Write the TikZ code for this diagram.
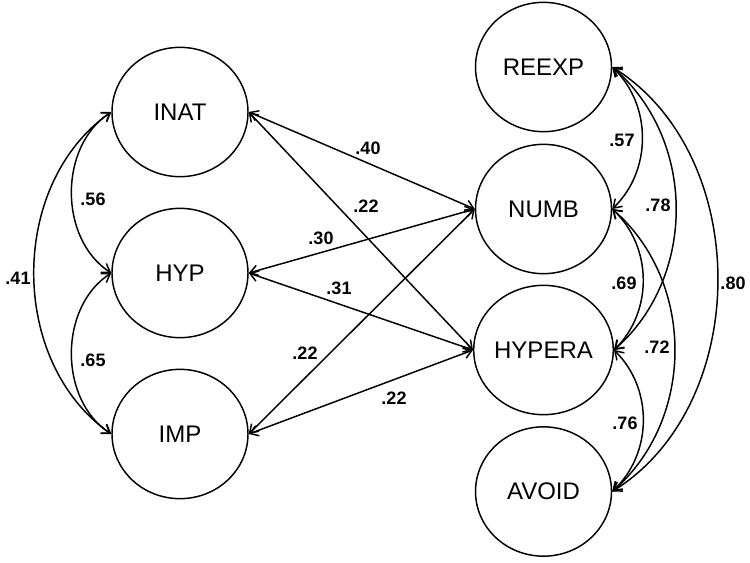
\documentclass[tikz,border=0pt]{standalone}
\usepackage{fontspec}
\setmainfont{Liberation Sans}
\usetikzlibrary{shapes.geometric,arrows.meta}

\begin{document}
\begin{tikzpicture}[x=0.75pt, y=-0.75pt,
		factor/.style={draw, line width=1.1pt, ellipse, inner sep=0pt,
			minimum width=102pt, minimum height=97pt, font=\fontsize{18}{21}\selectfont},
		coef/.style={font=\fontsize{13.5}{15}\selectfont\bfseries, inner sep=1pt},
		cov/.style={line width=1.1pt, {Straight Barb[length=6pt,width=8pt]}-{Straight Barb[length=6pt,width=8pt]}}]
		\useasboundingbox (0,0) rectangle (750,562);

		% left factors
		\node[factor] (inat) at (180,112) {INAT};
		\node[factor] (hyp) at (180,273) {HYP};
		\node[factor] (imp) at (180,434) {IMP};

		% right factors
		\node[factor] (reexp) at (543.5,67) {REEXP};
		\node[factor] (numb) at (543.5,209) {NUMB};
		\node[factor] (hypera) at (543.5,350) {HYPERA};
		\node[factor] (avoid) at (543.5,491.5) {AVOID};

		% between the two sides
		\draw[cov] (inat.east) -- (numb.west);
		\draw[cov] (inat.east) -- (hypera.west);
		\draw[cov] (hyp.east) -- (numb.west);
		\draw[cov] (hyp.east) -- (hypera.west);
		\draw[cov] (imp.east) -- (numb.west);
		\draw[cov] (imp.east) -- (hypera.west);

		\node[coef] (c40) at (368,148) {.40};
		\node[coef] (c22a) at (366,206) {.22};
		\node[coef] (c30) at (321,238) {.30};
		\node[coef] (c31) at (339,288) {.31};
		\node[coef] (c22b) at (305,353) {.22};
		\node[coef] (c22c) at (394,398) {.22};

		% left side
		\draw[cov] (inat.west) to[bend right=57] (hyp.west);
		\draw[cov] (hyp.west) to[bend right=57] (imp.west);
		\draw[cov] (inat.west) to[bend right=55] (imp.west);

		\node[coef] (c56) at (93,199) {.56};
		\node[coef] (c65) at (93,360) {.65};
		\node[coef] (c41) at (18,278) {.41};

		% right side
		\draw[cov] (reexp.east) to[bend left=46] (numb.east);
		\draw[cov] (numb.east) to[bend left=46] (hypera.east);
		\draw[cov] (hypera.east) to[bend left=46] (avoid.east);
		\draw[cov] (reexp.east) to[bend left=49] (hypera.east);
		\draw[cov] (numb.east) to[bend left=49] (avoid.east);
		\draw[cov] (reexp.east) to[bend left=58] (avoid.east);

		\node[coef] (c57) at (622,140) {.57};
		\node[coef] (c69) at (624,283) {.69};
		\node[coef] (c76) at (625,423) {.76};
		\node[coef] (c78) at (658,205) {.78};
		\node[coef] (c72) at (657,347) {.72};
		\node[coef] (c80) at (733,283) {.80};
\end{tikzpicture}
\end{document}
